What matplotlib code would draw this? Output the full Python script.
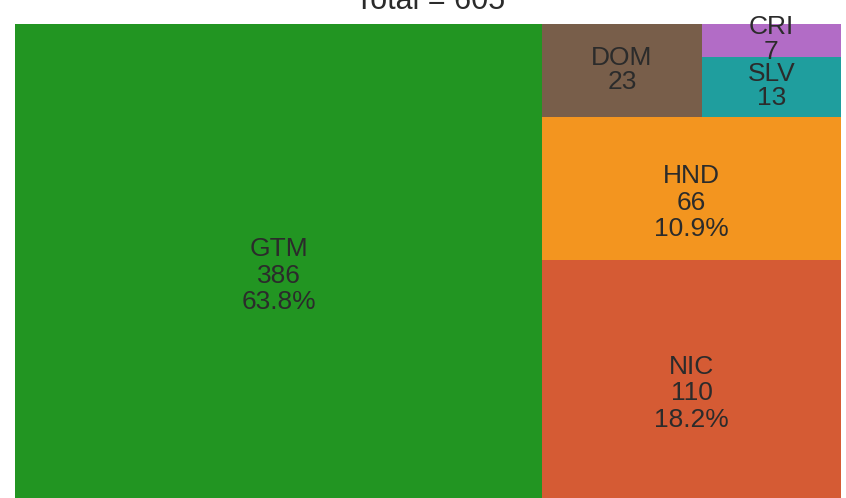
import matplotlib
matplotlib.use('Agg')
from matplotlib import pyplot as plt
from matplotlib.patches import Rectangle

plt.rcParams['font.family'] = ['Liberation Sans', 'DejaVu Sans']

# datos
paises = ['GTM', 'NIC', 'HND', 'DOM', 'SLV', 'CRI']
valores = [386, 110, 66, 23, 13, 7]
colores = ['#229522', '#D55B34', '#F3951F', '#785E4A', '#1F9E9E', '#B26CC6']
con_porcentaje = ['GTM', 'NIC', 'HND']

total = sum(valores)
v = dict(zip(paises, valores))

W, H = 826, 474

fig = plt.figure(figsize=(8.46, 4.98), dpi=100)
ax = fig.add_axes([15 / 846, 0, W / 846, H / 498])
ax.set_xlim(0, W)
ax.set_ylim(H, 0)
ax.axis('off')

# layout: GTM a la izquierda, resto en columna apilada
rects = {}
w_gtm = W * v['GTM'] / total
rects['GTM'] = (0, 0, w_gtm, H)
resto = total - v['GTM']
w_col = W - w_gtm
h_nic = H * v['NIC'] / resto
h_hnd = H * v['HND'] / resto
h_top = H - h_nic - h_hnd
rects['NIC'] = (w_gtm, H - h_nic, w_col, h_nic)
rects['HND'] = (w_gtm, h_top, w_col, h_hnd)
top = v['DOM'] + v['SLV'] + v['CRI']
w_dom = w_col * v['DOM'] / top
rects['DOM'] = (w_gtm, 0, w_dom, h_top)
h_cri = h_top * v['CRI'] / (v['SLV'] + v['CRI'])
rects['CRI'] = (w_gtm + w_dom, 0, w_col - w_dom, h_cri)
rects['SLV'] = (w_gtm + w_dom, h_cri, w_col - w_dom, h_top - h_cri)

for p, c in zip(paises, colores):
    x, y, w, h = rects[p]
    ax.add_patch(Rectangle((x, y), w, h, facecolor=c, edgecolor='none'))
    cx, cy = x + w / 2, y + h / 2
    if p in con_porcentaje:
        lineas = [p, str(v[p]), '%.1f%%' % (100 * v[p] / total)]
        offs = [-5, 21.5, 48]
    else:
        lineas = [p, str(v[p])]
        offs = [-6, 18.5]
    for t, o in zip(lineas, offs):
        ax.text(cx, cy + o, t, ha='center', va='baseline', fontsize=19, color='#2b2b2b')

fig.text(430 / 846, 1 - 9 / 498, 'Total = %d' % total, ha='center', va='baseline',
         fontsize=22, color='#2b2b2b')

fig.savefig('out.png', dpi=100)
